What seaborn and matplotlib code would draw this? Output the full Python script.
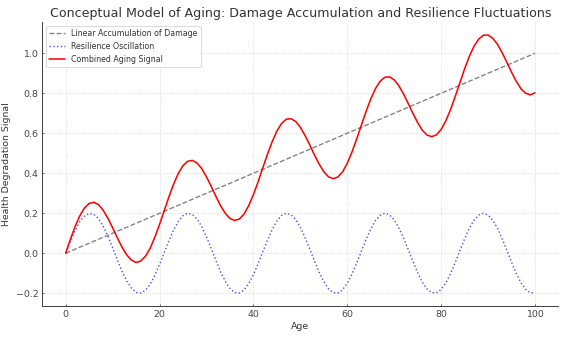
import matplotlib
matplotlib.use("Agg")
import matplotlib.pyplot as plt
import seaborn as sns
import pandas as pd

age = list(range(0, 101))

damage_age = [0, 100]
damage = [0.0, 1.0]

resilience = [
    0.000, 0.059, 0.113, 0.157, 0.186, 0.199, 0.195, 0.173, 0.135, 0.085,
    0.028, -0.032, -0.089, -0.138, -0.174, -0.196, -0.199, -0.185, -0.155, -0.110,
    -0.056, 0.003, 0.062, 0.116, 0.159, 0.188, 0.200, 0.194, 0.171, 0.133,
    0.082, 0.025, -0.035, -0.092, -0.140, -0.176, -0.196, -0.199, -0.184, -0.152,
    -0.107, -0.053, 0.007, 0.065, 0.118, 0.161, 0.189, 0.200, 0.193, 0.169,
    0.130, 0.079, 0.022, -0.038, -0.094, -0.142, -0.178, -0.197, -0.199, -0.183,
    -0.150, -0.104, -0.049, 0.010, 0.069, 0.121, 0.163, 0.190, 0.200, 0.192,
    0.167, 0.127, 0.076, 0.018, -0.041, -0.097, -0.145, -0.179, -0.197, -0.198,
    -0.181, -0.148, -0.102, -0.046, 0.013, 0.072, 0.124, 0.165, 0.191, 0.200,
    0.191, 0.165, 0.125, 0.073, 0.015, -0.045, -0.100, -0.147, -0.180, -0.198,
    -0.198,
]

combined = [
    0.000, 0.069, 0.133, 0.187, 0.226, 0.249, 0.255, 0.243, 0.215, 0.175,
    0.128, 0.078, 0.031, -0.008, -0.034, -0.046, -0.039, -0.015, 0.025, 0.080,
    0.144, 0.213, 0.282, 0.346, 0.399, 0.438, 0.460, 0.464, 0.451, 0.423,
    0.382, 0.335, 0.285, 0.238, 0.200, 0.174, 0.164, 0.171, 0.196, 0.238,
    0.293, 0.357, 0.427, 0.495, 0.558, 0.611, 0.649, 0.670, 0.673, 0.659,
    0.630, 0.589, 0.542, 0.492, 0.446, 0.408, 0.382, 0.373, 0.381, 0.407,
    0.450, 0.506, 0.571, 0.640, 0.709, 0.771, 0.823, 0.860, 0.880, 0.882,
    0.867, 0.837, 0.796, 0.748, 0.699, 0.653, 0.615, 0.591, 0.583, 0.592,
    0.619, 0.662, 0.718, 0.784, 0.853, 0.922, 0.984, 1.035, 1.071, 1.090,
    1.091, 1.075, 1.045, 1.003, 0.955, 0.905, 0.860, 0.823, 0.800, 0.792,
    0.802,
]

series_names = ["Linear Accumulation of Damage", "Resilience Oscillation", "Combined Aging Signal"]

sns.set_theme(style="whitegrid")
plt.rcParams["font.family"] = ["DejaVu Sans"]
plt.rcParams.update({
    "grid.linestyle": ":",
    "grid.color": "#d0d0d0",
    "grid.linewidth": 1.0,
    "axes.edgecolor": "#444444",
    "axes.linewidth": 1.3,
    "text.color": "#333333",
    "axes.labelcolor": "#333333",
    "xtick.color": "#444444",
    "ytick.color": "#444444",
})

fig = plt.figure(figsize=(10, 339 / 56.4), dpi=56.4)
ax = fig.add_axes([0.0748, 0.0968, 0.9154, 0.838])

df_d = pd.DataFrame({"Age": damage_age, "v": damage})
df_r = pd.DataFrame({"Age": age, "v": resilience})
df_c = pd.DataFrame({"Age": age, "v": combined})

sns.lineplot(data=df_d, x="Age", y="v", ax=ax, color="gray", linestyle="--",
             linewidth=1.7, label=series_names[0])
sns.lineplot(data=df_r, x="Age", y="v", ax=ax, color="blue", linestyle=":",
             linewidth=1.8, alpha=0.7, label=series_names[1])
sns.lineplot(data=df_c, x="Age", y="v", ax=ax, color="red", linestyle="-",
             linewidth=2.0, label=series_names[2])

ax.set_xlim(-5, 105)
ax.set_ylim(-0.2646, 1.1557)
ax.set_xticks([0, 20, 40, 60, 80, 100])
ax.set_yticks([-0.2, 0.0, 0.2, 0.4, 0.6, 0.8, 1.0])
ax.set_yticklabels(["\u22120.2", "0.0", "0.2", "0.4", "0.6", "0.8", "1.0"])
ax.tick_params(axis="both", labelsize=12, length=3, width=1, direction="in",
               bottom=True, left=True, pad=5)

for s in ["top", "right"]:
    ax.spines[s].set_visible(False)

ax.set_xlabel("Age", fontsize=12, labelpad=4)
ax.set_ylabel("Health Degradation Signal", fontsize=12, labelpad=6)
ax.set_title("Conceptual Model of Aging: Damage Accumulation and Resilience Fluctuations",
             fontsize=16.2, pad=6)
ax.legend(loc="upper left", fontsize=10.1, frameon=True, framealpha=0.9)

fig.savefig("out.png", dpi=56.4)
